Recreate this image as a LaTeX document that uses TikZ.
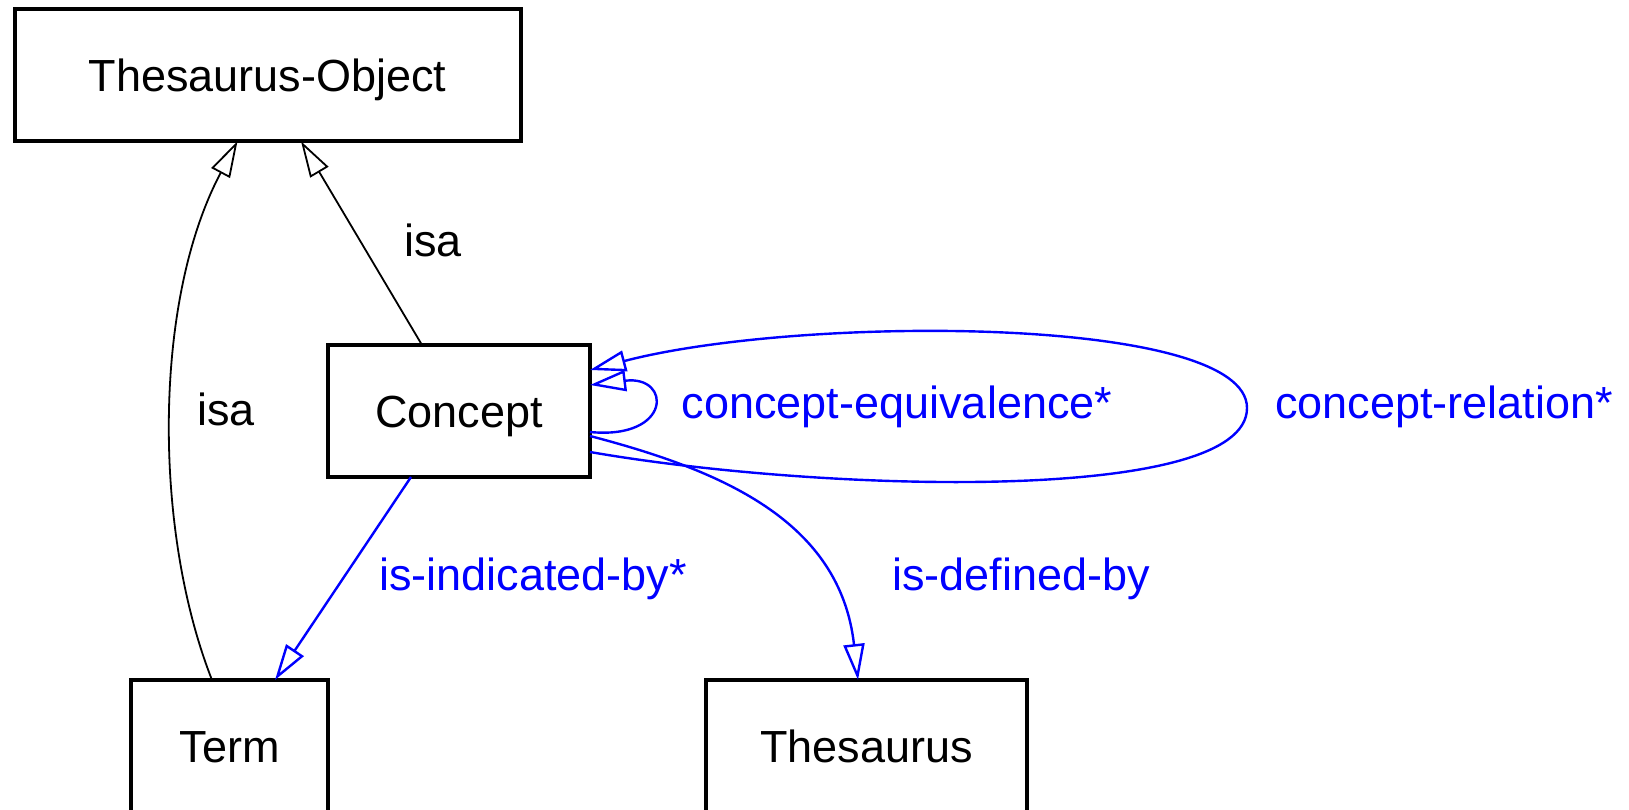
\documentclass[tikz,border=0pt]{standalone}
\usepackage{fontspec}
\setmainfont{Liberation Sans}
\usetikzlibrary{arrows.meta}
\definecolor{relblue}{RGB}{0,0,255}
\tikzset{
  box/.style={draw=black, line width=4pt, outer sep=0pt, inner sep=0pt,
    minimum height=132pt, text height=32pt, text depth=0pt,
    font=\fontsize{45}{54}\selectfont},
  lbl/.style={anchor=base, inner sep=0pt, font=\fontsize{45}{54}\selectfont},
  rellbl/.style={lbl, text=relblue},
  tip/.style={-{Triangle[open, length=36pt, width=21pt]}},
  isaedge/.style={tip, draw=black, line width=1.8pt},
  reledge/.style={tip, draw=relblue, line width=2.4pt},
}
\begin{document}
\begin{tikzpicture}[x=1pt, y=-1pt]
\useasboundingbox (0,0) rectangle (1629,810);
\clip (0,0) rectangle (1629,810);
\fill[white] (0,0) rectangle (1629,810);
% boxes
\node[box, minimum width=506pt] (tobj) at (267.5,75.3) {Thesaurus-Object};
\node[box, minimum width=262pt] (concept) at (459,411) {Concept};
\node[box, minimum width=197pt] (term) at (229.5,746) {Term};
\node[box, minimum width=321pt] (thes) at (866.5,746) {Thesaurus};
\coordinate (relfar) at (1247,408);
% isa edges
\draw[isaedge] ([xshift=-17.5pt]term.north) .. controls (153,530) and (153,300) .. ([xshift=-30pt]tobj.south);
\draw[isaedge] ([xshift=-37pt]concept.north) -- ([xshift=33.5pt]tobj.south);
% relation edges
\draw[reledge] ([xshift=-48pt]concept.south) -- ([xshift=45.5pt]term.north);
\draw[reledge] ([yshift=-25pt]concept.east) .. controls (720,470) and (840,520) .. ([xshift=-8.5pt]thes.north);
\draw[reledge] ([yshift=-21pt]concept.east) .. controls (672,440) and (672,375) .. ([yshift=26pt]concept.east);
\draw[reledge] ([yshift=-41pt]concept.east) .. controls (820,492) and (1247,505) .. (relfar) .. controls (1247,315) and (800,315) .. ([yshift=41pt]concept.east);
% labels
\node[lbl] (isa1) at (433,256) {isa};
\node[lbl] (isa2) at (226,425) {isa};
\node[rellbl] (lequiv) at (897,418) {concept-equivalence*};
\node[rellbl] (lrel) at (1444,418) {concept-relation*};
\node[rellbl] (lind) at (533,590) {is-indicated-by*};
\node[rellbl] (ldef) at (1021,590) {is-defined-by};
\end{tikzpicture}
\end{document}
